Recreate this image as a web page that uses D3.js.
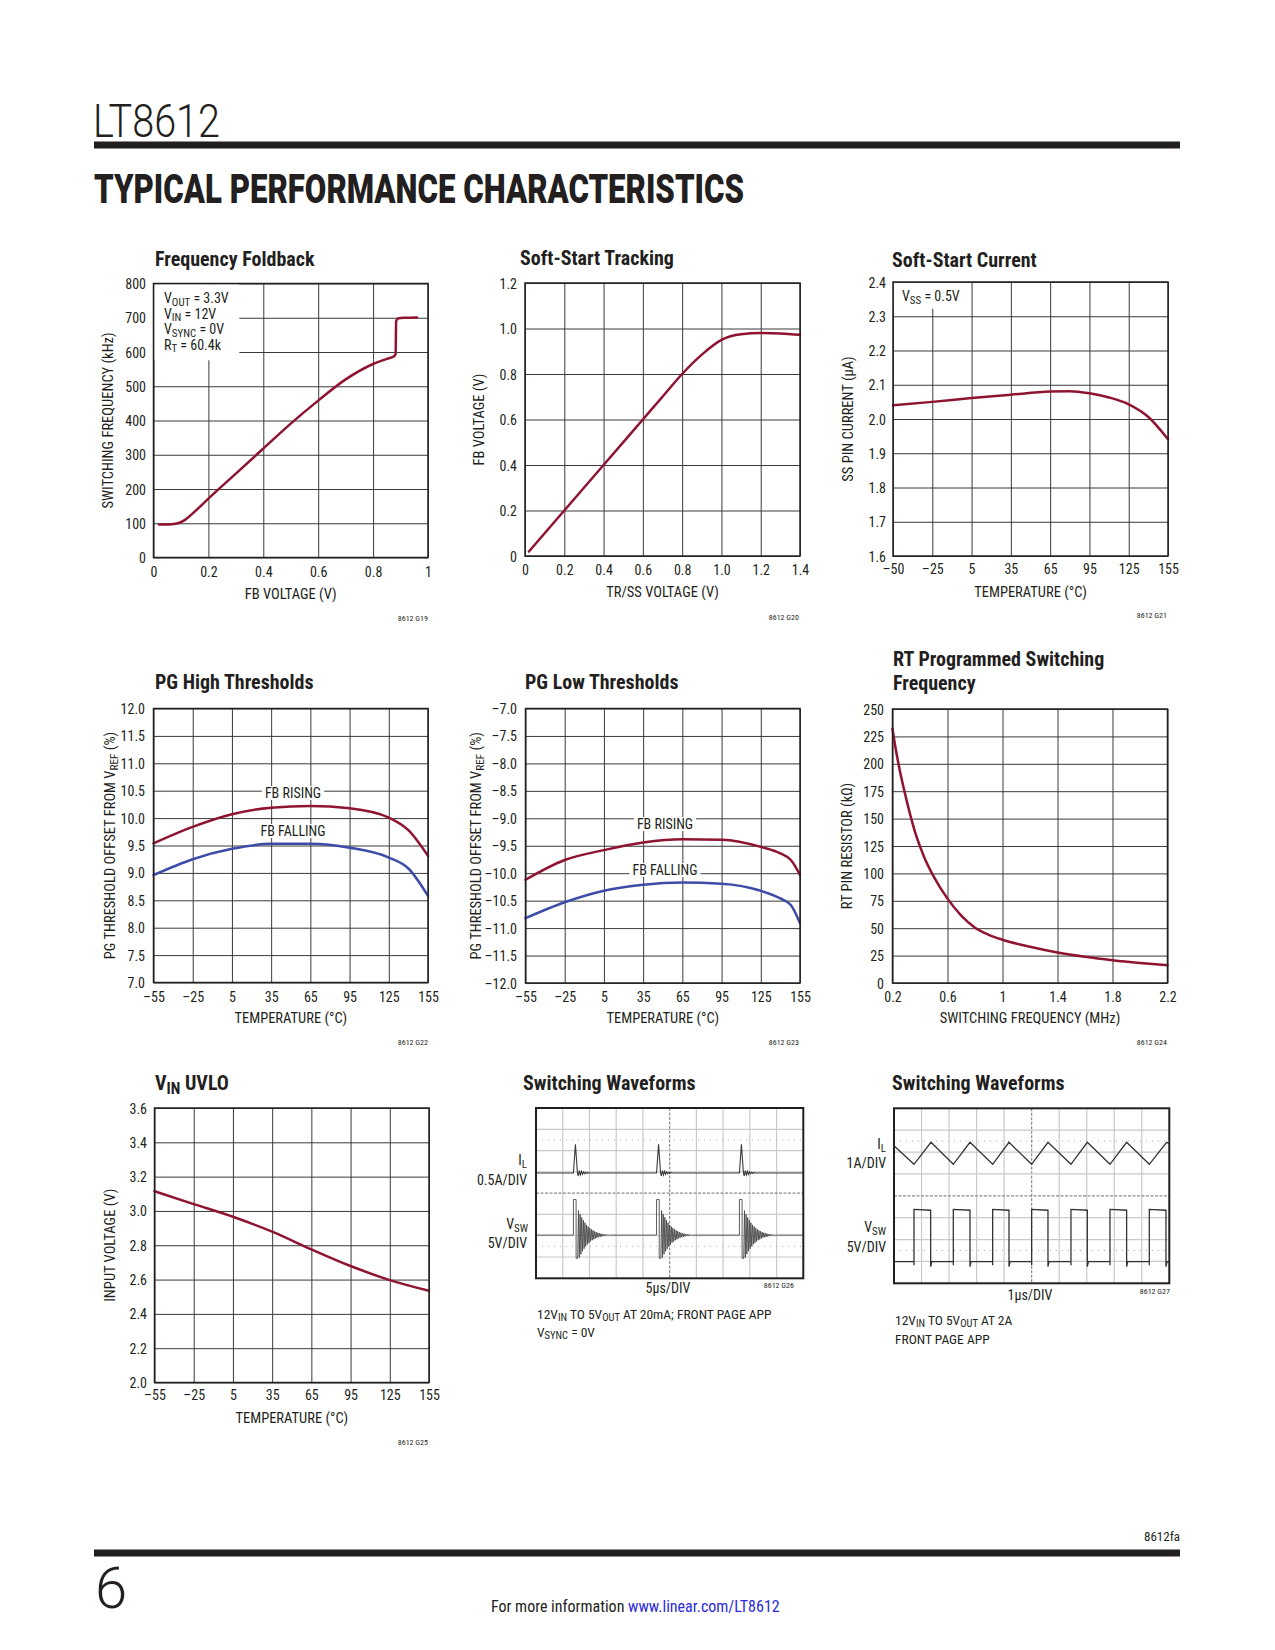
<!DOCTYPE html>
<html><head><meta charset="utf-8">
<script src="https://cdn.jsdelivr.net/npm/d3@7"></script>
<style>
body{margin:0;background:#fff}
svg text{font-family:'Liberation Sans Narrow','Roboto Condensed','Arial Narrow',Roboto,sans-serif;fill:#231f20}
</style></head><body>
<svg id="page" width="1275" height="1650"></svg>
<script>
// ---------------- DATA ----------------
const tempTicks = [-55,-25,5,35,65,95,125,155];
const tempLabels = ['\u201355','\u201325','5','35','65','95','125','155'];

// G19 Frequency Foldback
const g19FbV  = [0.02,0.05,0.085,0.115,0.15,0.2,0.3,0.4,0.5,0.6,0.7,0.8,0.85,0.875,0.882,0.884,0.89,0.92,0.96];
const g19Freq = [96,96,99,110,134,172,245,318,391,458,520,565,580,587,594,690,698,700,701];
const g19XTicks = [0,0.2,0.4,0.6,0.8,1];
const g19XLabels = ['0','0.2','0.4','0.6','0.8','1'];
const g19YTicks = [0,100,200,300,400,500,600,700,800];
const g19YLabels = ['0','100','200','300','400','500','600','700','800'];

// G20 Soft-Start Tracking
const g20TrSs = [0.02,0.2,0.4,0.6,0.7,0.8,0.9,1.0,1.1,1.2,1.3,1.4];
const g20Fb   = [0.02,0.2,0.4,0.6,0.7,0.8,0.885,0.95,0.975,0.98,0.978,0.972];
const g20XTicks = [0,0.2,0.4,0.6,0.8,1.0,1.2,1.4];
const g20XLabels = ['0','0.2','0.4','0.6','0.8','1.0','1.2','1.4'];
const g20YTicks = [0,0.2,0.4,0.6,0.8,1.0,1.2];
const g20YLabels = ['0','0.2','0.4','0.6','0.8','1.0','1.2'];

// G21 Soft-Start Current
const g21Temp = [-50,-25,5,35,65,80,95,110,125,140,155];
const g21Iss  = [2.04,2.05,2.061,2.071,2.08,2.081,2.075,2.063,2.043,2.006,1.941];
const g21XTicks = [-50,-25,5,35,65,95,125,155];
const g21XLabels = ['\u201350','\u201325','5','35','65','95','125','155'];
const g21YTicks = [1.6,1.7,1.8,1.9,2.0,2.1,2.2,2.3,2.4];
const g21YLabels = ['1.6','1.7','1.8','1.9','2.0','2.1','2.2','2.3','2.4'];

// G22 PG High Thresholds
const g22Temp = [-55,-25,5,35,65,95,125,140,155];
const g22Rising  = [9.54,9.84,10.07,10.19,10.22,10.18,10.01,9.78,9.31];
const g22Falling = [8.96,9.25,9.44,9.53,9.53,9.46,9.28,9.08,8.58];
const g22YTicks = [7,7.5,8,8.5,9,9.5,10,10.5,11,11.5,12];
const g22YLabels = ['7.0','7.5','8.0','8.5','9.0','9.5','10.0','10.5','11.0','11.5','12.0'];

// G23 PG Low Thresholds
const g23Temp = [-55,-25,5,35,65,95,125,140,148,155];
const g23Rising  = [-10.12,-9.76,-9.58,-9.44,-9.38,-9.39,-9.52,-9.64,-9.76,-10.03];
const g23Falling = [-10.82,-10.53,-10.32,-10.21,-10.17,-10.19,-10.32,-10.46,-10.58,-10.91];
const g23YTicks = [-12,-11.5,-11,-10.5,-10,-9.5,-9,-8.5,-8,-7.5,-7];
const g23YLabels = ['\u201312.0','\u201311.5','\u201311.0','\u201310.5','\u201310.0','\u20139.5','\u20139.0','\u20138.5','\u20138.0','\u20137.5','\u20137.0'];

// G24 RT Programmed Switching Frequency
const g24Fsw = [0.2,0.22,0.245,0.285,0.33,0.376,0.43,0.5,0.6,0.7,0.8,0.9,1.0,1.2,1.4,1.6,1.8,2.0,2.2];
const g24Rt  = [232,216,199,176,153,133,115,97,77,61.5,50.5,44,39.5,33,27.8,23.9,20.8,18.3,16.2];
const g24XTicks = [0.2,0.6,1,1.4,1.8,2.2];
const g24XLabels = ['0.2','0.6','1','1.4','1.8','2.2'];
const g24YTicks = [0,25,50,75,100,125,150,175,200,225,250];
const g24YLabels = ['0','25','50','75','100','125','150','175','200','225','250'];

// G25 VIN UVLO
const g25Temp = [-55,-25,5,35,65,95,125,155];
const g25Vin  = [3.115,3.04,2.966,2.879,2.776,2.679,2.597,2.535];
const g25YTicks = [2.0,2.2,2.4,2.6,2.8,3.0,3.2,3.4,3.6];
const g25YLabels = ['2.0','2.2','2.4','2.6','2.8','3.0','3.2','3.4','3.6'];

// Scope screens (units: divisions; x 0..10, y 0..8 from top)
const scopeXDivs = 10, scopeYDivs = 8;
const scopeDotRows = [1.5, 6.5];
// G26 (20mA, burst)
const g26Pulses = [1.40, 4.51, 7.61];
const g26IlLevel = 3.05, g26IlPeak = 1.70;
const g26IlRing = [0.14,0.11,0.09,0.08,0.06,0.05,0.04,0.03,0.025,0.02];
const g26VswLevel = 5.97, g26VswHigh = 4.30, g26VswLow = 7.06;
const g26VswRing = [1.15,1.06,0.98,0.9,0.83,0.76,0.7,0.64,0.58,0.53,0.48,0.44,0.4,0.36,0.33,0.3,0.27,0.24,0.22,0.2,0.18,0.16,0.14,0.12,0.11,0.1,0.09,0.08,0.07,0.06,0.05,0.045,0.04,0.035,0.03,0.025,0.02,0.015,0.01,0.01];
// G27 (2A, continuous)
const g27IlT = [0,0.726,1.344,2.155,2.760,3.584,4.177,4.999,5.593,6.428,7.022,7.845,8.450,9.274,9.903,10];
const g27IlY = [1.71,2.56,1.555,2.56,1.555,2.56,1.555,2.56,1.555,2.56,1.555,2.56,1.555,2.56,1.555,1.62];
const g27Rise = [0.726,2.155,3.584,4.999,6.428,7.845,9.274];
const g27Fall = [1.332,2.760,4.177,5.593,7.022,8.450,9.879];
const g27VswHighStart = 4.62, g27VswHighEnd = 4.66, g27VswLow = 7.01;

// ---------------- STYLE ----------------
const RED = '#8f1431', BLUE = '#3c4ca8', GRID = '#3a3a3a', INK = '#231f20';
const svg = d3.select('#page');

function rich(textSel, segs, fs) {
  let shifted = false;
  segs.forEach(([t, sub]) => {
    const ts = textSel.append('tspan').text(t);
    if (sub && !shifted) { ts.attr('dy', fs*0.18).attr('font-size', fs*0.78); shifted = true; }
    else if (sub) { ts.attr('font-size', fs*0.78); }
    else if (!sub && shifted) { ts.attr('dy', -fs*0.18); shifted = false; }
  });
  return textSel;
}

// ---------------- HEADER / FOOTER ----------------
svg.append('text').attr('x',93).attr('y',137).style('font-family','Roboto').attr('font-weight',300)
  .attr('font-size',46).attr('textLength',127).attr('lengthAdjust','spacingAndGlyphs').text('LT8612');
svg.append('rect').attr('x',94).attr('y',141.5).attr('width',1086).attr('height',7).attr('fill',INK);
svg.append('text').attr('x',94).attr('y',203).style('font-family','Roboto').attr('font-weight',900)
  .attr('font-size',40).attr('textLength',650).attr('lengthAdjust','spacingAndGlyphs')
  .text('TYPICAL PERFORMANCE CHARACTERISTICS');
svg.append('text').attr('x',1180).attr('y',1541).attr('text-anchor','end').attr('font-size',13).text('8612fa');
svg.append('rect').attr('x',94).attr('y',1549.5).attr('width',1086).attr('height',7).attr('fill',INK);
svg.append('text').attr('x',95).attr('y',1608).style('font-family','Roboto').attr('font-weight',300)
  .attr('font-size',58).text('6');
const foot = svg.append('text').attr('x',491).attr('y',1612).attr('font-size',16);
foot.append('tspan').text('For more information ');
foot.append('tspan').style('fill','#2b2bdd').text('www.linear.com/LT8612');

// ---------------- XY CHART ----------------
function xyChart(c) {
  const [x0,x1,y0,y1] = c.box;
  const g = svg.append('g');
  const x = c.xPiecewise
    ? d3.scaleLinear().domain(c.xTicks).range(c.xTicks.map((d,i)=> x0 + i*(x1-x0)/(c.xTicks.length-1)))
    : d3.scaleLinear().domain([c.xTicks[0], c.xTicks[c.xTicks.length-1]]).range([x0,x1]);
  const y = d3.scaleLinear().domain([c.yTicks[0], c.yTicks[c.yTicks.length-1]]).range([y1,y0]);

  const ax = g.append('g').attr('transform',`translate(0,${y1})`)
    .call(d3.axisBottom(x).tickValues(c.xTicks).tickFormat((d,i)=>c.xLabels[i]).tickSize(-(y1-y0)));
  ax.select('.domain').remove();
  ax.selectAll('line').attr('stroke',GRID).attr('stroke-width',1);
  ax.selectAll('text').attr('y', c.xLabelY - y1).attr('dy',0).attr('font-size',14).attr('fill',INK);
  const ay = g.append('g').attr('transform',`translate(${x0},0)`)
    .call(d3.axisLeft(y).tickValues(c.yTicks).tickFormat((d,i)=>c.yLabels[i]).tickSize(-(x1-x0)));
  ay.select('.domain').remove();
  ay.selectAll('line').attr('stroke',GRID).attr('stroke-width',1);
  ay.selectAll('text').attr('x', c.yLabelX - x0).attr('dy','0.36em').attr('font-size',14).attr('fill',INK);
  g.selectAll('.tick text').attr('font-family',null);

  (c.boxes||[]).forEach(b => g.append('rect').attr('x',b[0]).attr('y',b[1]).attr('width',b[2]).attr('height',b[3]).attr('fill','#fff'));
  (c.notes||[]).forEach(n => {
    const t = g.append('text').attr('x',n.x).attr('y',n.y).attr('font-size',14).attr('text-anchor',n.anchor||'start');
    rich(t, n.segs, 14);
    if (n.bg) {
      const bb = t.node().getBBox();
      g.insert('rect', () => t.node()).attr('x',bb.x-3).attr('y',bb.y+1).attr('width',bb.width+6).attr('height',bb.height-2).attr('fill','#fff');
    }
  });

  c.series.forEach(s => {
    const pts = s.x.map((v,i)=>[v, s.y[i]]);
    g.append('path').attr('d', d3.line().x(d=>x(d[0])).y(d=>y(d[1])).curve(d3.curveMonotoneX)(pts))
      .attr('fill','none').attr('stroke',s.color).attr('stroke-width',2.5).attr('stroke-linecap','round');
  });

  g.append('rect').attr('x',x0).attr('y',y0).attr('width',x1-x0).attr('height',y1-y0)
    .attr('fill','none').attr('stroke',INK).attr('stroke-width',1.5);

  c.title.forEach((ln,i) => {
    const t = g.append('text').attr('x',c.titlePos[0]).attr('y',c.titlePos[1]+i*24).attr('font-size',20).attr('font-weight',700);
    rich(t, ln, 20);
  });
  g.append('text').attr('x',(x0+x1)/2).attr('y',c.xTitleY).attr('text-anchor','middle').attr('font-size',14.5).text(c.xTitle);
  const yt = g.append('text').attr('transform',`translate(${c.yTitleX},${(y0+y1)/2}) rotate(-90)`)
    .attr('text-anchor','middle').attr('dy','0.36em').attr('font-size',14.5);
  rich(yt, c.yTitle, 14.5);
  g.append('text').attr('x',c.codePos[0]).attr('y',c.codePos[1]).attr('text-anchor','end').attr('font-size',8).text(c.code);
}

xyChart({
  box:[153.5,428,283.5,557.5], xTicks:g19XTicks, xLabels:g19XLabels, yTicks:g19YTicks, yLabels:g19YLabels,
  series:[{x:g19FbV, y:g19Freq, color:RED}],
  yLabelX:146, xLabelY:577, xTitleY:599, yTitleX:108,
  title:[[['Frequency Foldback']]], titlePos:[155,266], codePos:[428,621], code:'8612 G19',
  xTitle:'FB VOLTAGE (V)', yTitle:[['SWITCHING FREQUENCY (kHz)']],
  boxes:[[154.3,284.3,85,76]],
  notes:[
    {x:164,y:303,segs:[['V'],['OUT',1],[' = 3.3V']]},
    {x:164,y:318.5,segs:[['V'],['IN',1],[' = 12V']]},
    {x:164,y:334,segs:[['V'],['SYNC',1],[' = 0V']]},
    {x:164,y:349.5,segs:[['R'],['T',1],[' = 60.4k']]}
  ]
});
xyChart({
  box:[525,800,283,556], xTicks:g20XTicks, xLabels:g20XLabels, yTicks:g20YTicks, yLabels:g20YLabels,
  series:[{x:g20TrSs, y:g20Fb, color:RED}],
  yLabelX:517, xLabelY:575, xTitleY:597, yTitleX:479,
  title:[[['Soft-Start Tracking']]], titlePos:[520,265], codePos:[799,620], code:'8612 G20',
  xTitle:'TR/SS VOLTAGE (V)', yTitle:[['FB VOLTAGE (V)']]
});
xyChart({
  box:[893,1168,282,556], xPiecewise:true, xTicks:g21XTicks, xLabels:g21XLabels, yTicks:g21YTicks, yLabels:g21YLabels,
  series:[{x:g21Temp, y:g21Iss, color:RED}],
  yLabelX:886, xLabelY:574, xTitleY:597, yTitleX:848,
  title:[[['Soft-Start Current']]], titlePos:[892,267], codePos:[1167,618], code:'8612 G21',
  xTitle:'TEMPERATURE (\u00B0C)', yTitle:[['SS PIN CURRENT (\u00B5A)']],
  boxes:[[893.8,282.8,72,26]],
  notes:[{x:902,y:301,segs:[['V'],['SS',1],[' = 0.5V']]}]
});
xyChart({
  box:[153.5,428,708.5,982.5], xTicks:tempTicks, xLabels:tempLabels, yTicks:g22YTicks, yLabels:g22YLabels,
  series:[{x:g22Temp, y:g22Rising, color:RED},{x:g22Temp, y:g22Falling, color:BLUE}],
  yLabelX:145, xLabelY:1002, xTitleY:1023, yTitleX:110,
  title:[[['PG High Thresholds']]], titlePos:[155,689], codePos:[428,1045], code:'8612 G22',
  xTitle:'TEMPERATURE (\u00B0C)', yTitle:[['PG THRESHOLD OFFSET FROM V'],['REF',1],[' (%)']],
  notes:[{x:293,y:798,anchor:'middle',bg:1,segs:[['FB RISING']]},{x:293,y:836,anchor:'middle',bg:1,segs:[['FB FALLING']]}]
});
xyChart({
  box:[525.5,800,708.5,983], xTicks:tempTicks, xLabels:tempLabels, yTicks:g23YTicks, yLabels:g23YLabels,
  series:[{x:g23Temp, y:g23Rising, color:RED},{x:g23Temp, y:g23Falling, color:BLUE}],
  yLabelX:517, xLabelY:1002, xTitleY:1023, yTitleX:476,
  title:[[['PG Low Thresholds']]], titlePos:[525,689], codePos:[799,1045], code:'8612 G23',
  xTitle:'TEMPERATURE (\u00B0C)', yTitle:[['PG THRESHOLD OFFSET FROM V'],['REF',1],[' (%)']],
  notes:[{x:665,y:829,anchor:'middle',bg:1,segs:[['FB RISING']]},{x:665,y:875,anchor:'middle',bg:1,segs:[['FB FALLING']]}]
});
xyChart({
  box:[892.5,1167.5,709,983], xTicks:g24XTicks, xLabels:g24XLabels, yTicks:g24YTicks, yLabels:g24YLabels,
  series:[{x:g24Fsw, y:g24Rt, color:RED}],
  yLabelX:884, xLabelY:1002, xTitleY:1023, yTitleX:847,
  title:[[['RT Programmed Switching']],[['Frequency']]], titlePos:[893,666], codePos:[1167,1045], code:'8612 G24',
  xTitle:'SWITCHING FREQUENCY (MHz)', yTitle:[['RT PIN RESISTOR (k\u03A9)']]
});
xyChart({
  box:[154.5,429,1108,1382.5], xTicks:tempTicks, xLabels:tempLabels, yTicks:g25YTicks, yLabels:g25YLabels,
  series:[{x:g25Temp, y:g25Vin, color:RED}],
  yLabelX:147, xLabelY:1400, xTitleY:1423, yTitleX:110,
  title:[[['V'],['IN',1],[' UVLO']]], titlePos:[155,1090], codePos:[428,1445], code:'8612 G25',
  xTitle:'TEMPERATURE (\u00B0C)', yTitle:[['INPUT VOLTAGE (V)']]
});

// ---------------- SCOPE ----------------
function scope(c) {
  const g = svg.append('g');
  const xs = d3.scaleLinear().domain([0,scopeXDivs]).range([c.x0,c.x1]);
  const ys = d3.scaleLinear().domain([0,scopeYDivs]).range([c.y0,c.y1]);
  d3.range(1,scopeXDivs).forEach(i => g.append('line').attr('x1',xs(i)).attr('x2',xs(i)).attr('y1',c.y0).attr('y2',c.y1)
     .attr('stroke', i===scopeXDivs/2 ? '#8a8a8a' : '#c9c9c9').attr('stroke-width',1.2)
     .attr('stroke-dasharray', i===scopeXDivs/2 ? '3,1.5' : null));
  d3.range(1,scopeYDivs).forEach(i => g.append('line').attr('y1',ys(i)).attr('y2',ys(i)).attr('x1',c.x0).attr('x2',c.x1)
     .attr('stroke', i===scopeYDivs/2 ? '#8a8a8a' : '#c9c9c9').attr('stroke-width',1.2)
     .attr('stroke-dasharray', i===scopeYDivs/2 ? '3,1.5' : null));
  scopeDotRows.forEach(r => g.append('line').attr('y1',ys(r)).attr('y2',ys(r)).attr('x1',c.x0).attr('x2',c.x1)
     .attr('stroke','#b0b0b0').attr('stroke-width',1).attr('stroke-dasharray','1,5'));
  const line = d3.line().x(d=>xs(d[0])).y(d=>ys(d[1]));
  c.traces.forEach(t => g.append('path').attr('d',line(t.pts)).attr('fill','none')
     .attr('stroke',t.color||'#333').attr('stroke-width',t.w||1.3).attr('stroke-linejoin','miter'));
  g.append('rect').attr('x',c.x0).attr('y',c.y0).attr('width',c.x1-c.x0).attr('height',c.y1-c.y0)
    .attr('fill','none').attr('stroke',INK).attr('stroke-width',2);
  const tt = svg.append('text').attr('x',c.titlePos[0]).attr('y',c.titlePos[1]).attr('font-size',20).attr('font-weight',700);
  rich(tt, [['Switching Waveforms']], 20);
  c.labels.forEach(l => rich(svg.append('text').attr('x',l.x).attr('y',l.y).attr('font-size',l.fs||14)
      .attr('text-anchor',l.anchor||'end'), l.segs, l.fs||14));
}

// G26 traces
const g26Il = [[0,g26IlLevel]];
g26Pulses.forEach(t0 => {
  g26Il.push([t0,g26IlLevel],[t0+0.075,g26IlPeak],[t0+0.15,g26IlLevel]);
  g26IlRing.forEach((a,k)=> g26Il.push([t0+0.18+0.04*k, g26IlLevel + (k%2 ? -a : a)]));
  g26Il.push([t0+0.18+0.04*g26IlRing.length, g26IlLevel]);
});
g26Il.push([10,g26IlLevel]);
const g26Vsw = [[0,g26VswLevel]];
g26Pulses.forEach(t0 => {
  g26Vsw.push([t0,g26VswLevel],[t0,g26VswHigh],[t0+0.1,g26VswHigh],[t0+0.1,g26VswLow],[t0+0.16,g26VswLow]);
  g26VswRing.forEach((a,k)=> g26Vsw.push([t0+0.19+0.03*k, g26VswLevel + (k%2 ? a : -a)]));
  g26Vsw.push([t0+0.19+0.03*g26VswRing.length, g26VswLevel]);
});
g26Vsw.push([10,g26VswLevel]);

scope({
  x0:536, x1:803.3, y0:1108, y1:1278.3, titlePos:[523,1090],
  traces:[{pts:g26Il, w:1.1, color:'#3a3a3a'},{pts:g26Vsw, w:0.9, color:'#4a4a4a'}],
  labels:[
    {x:527,y:1165,segs:[['I'],['L',1]]},
    {x:527,y:1185,segs:[['0.5A/DIV']]},
    {x:528,y:1229,segs:[['V'],['SW',1]]},
    {x:527,y:1248,segs:[['5V/DIV']]},
    {x:668,y:1293,anchor:'middle',segs:[['5\u00B5s/DIV']]},
    {x:794,y:1288,fs:8,segs:[['8612 G26']]},
    {x:537,y:1319,anchor:'start',fs:13.5,segs:[['12V'],['IN',1],[' TO 5V'],['OUT',1],[' AT 20mA; FRONT PAGE APP']]},
    {x:537,y:1337,anchor:'start',fs:13.5,segs:[['V'],['SYNC',1],[' = 0V']]}
  ]
});

// G27 traces
const g27Il = g27IlT.map((t,i)=>[t, g27IlY[i]]);
const g27Vsw = [[0,g27VswLow]];
g27Rise.forEach((r,i) => {
  const f = g27Fall[i];
  g27Vsw.push([r,g27VswLow],[r,g27VswLow+0.17],[r,g27VswHighStart],[f,g27VswHighEnd],[f,g27VswLow+0.23],[Math.min(f+0.04,10),g27VswLow]);
});
g27Vsw.push([10,g27VswLow]);

scope({
  x0:894, x1:1169.3, y0:1108.3, y1:1283.3, titlePos:[892,1090],
  traces:[{pts:g27Il, w:1.3, color:'#333'},{pts:g27Vsw, w:1.3, color:'#333'}],
  labels:[
    {x:886,y:1149,segs:[['I'],['L',1]]},
    {x:886,y:1168,segs:[['1A/DIV']]},
    {x:886,y:1232,segs:[['V'],['SW',1]]},
    {x:886,y:1252,segs:[['5V/DIV']]},
    {x:1030,y:1300,anchor:'middle',segs:[['1\u00B5s/DIV']]},
    {x:1170,y:1294,fs:8,segs:[['8612 G27']]},
    {x:895,y:1325,anchor:'start',fs:13.5,segs:[['12V'],['IN',1],[' TO 5V'],['OUT',1],[' AT 2A']]},
    {x:895,y:1344,anchor:'start',fs:13.5,segs:[['FRONT PAGE APP']]}
  ]
});
</script>
</body></html>
